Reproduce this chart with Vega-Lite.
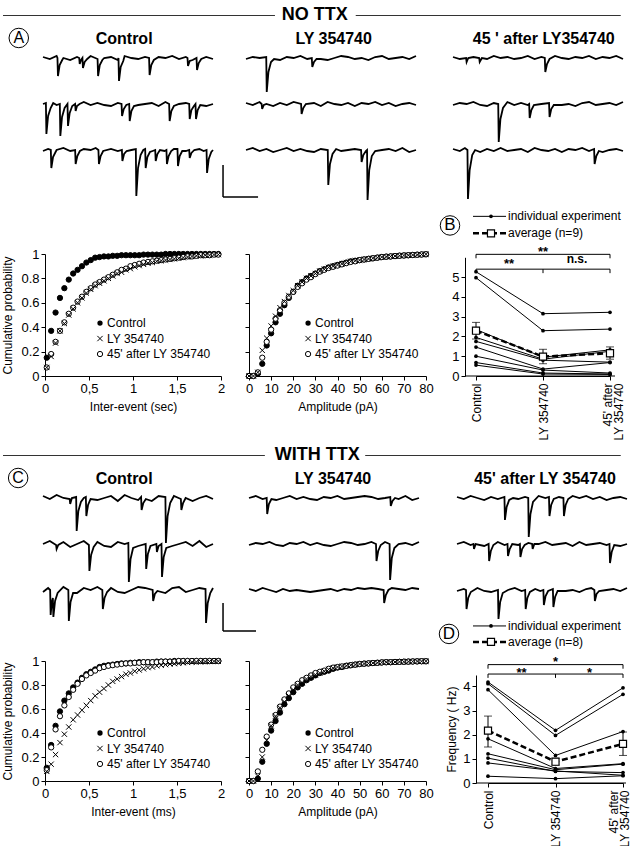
{
"$schema":"https://vega.github.io/schema/vega-lite/v6.json",
"padding":0,
"bounds":"flush",
"spacing":0,
"columns":5,
"align":"each",
"datasets":{
"ACtl":[
{"r":1,"t":0,"v":1},{"r":1,"t":40,"v":-1},{"r":1,"t":80,"v":2},{"r":1,"t":85,"v":0},{"r":1,"t":88,"v":-18},{"r":1,"t":98,"v":-7},{"r":1,"t":113,"v":-2},{"r":1,"t":120,"v":0},{"r":1,"t":160,"v":-2},{"r":1,"t":200,"v":1},{"r":1,"t":213,"v":0},{"r":1,"t":216,"v":-6},{"r":1,"t":224,"v":-2},{"r":1,"t":232,"v":0},{"r":1,"t":235,"v":-10},{"r":1,"t":245,"v":-4},{"r":1,"t":260,"v":-1},{"r":1,"t":280,"v":2},{"r":1,"t":321,"v":-1},{"r":1,"t":324,"v":-18},{"r":1,"t":334,"v":-7},{"r":1,"t":349,"v":-2},{"r":1,"t":360,"v":0},{"r":1,"t":400,"v":1},{"r":1,"t":440,"v":-2},{"r":1,"t":444,"v":0},{"r":1,"t":447,"v":-23},{"r":1,"t":457,"v":-9},{"r":1,"t":472,"v":-3},{"r":1,"t":480,"v":2},{"r":1,"t":520,"v":0},{"r":1,"t":560,"v":-1},{"r":1,"t":600,"v":1},{"r":1,"t":624,"v":0},{"r":1,"t":627,"v":-17},{"r":1,"t":637,"v":-7},{"r":1,"t":652,"v":-2},{"r":1,"t":680,"v":1},{"r":1,"t":720,"v":0},{"r":1,"t":760,"v":2},{"r":1,"t":800,"v":-1},{"r":1,"t":840,"v":1},{"r":1,"t":850,"v":0},{"r":1,"t":853,"v":-8},{"r":1,"t":863,"v":-3},{"r":1,"t":880,"v":-2},{"r":1,"t":903,"v":0},{"r":1,"t":906,"v":-12},{"r":1,"t":916,"v":-5},{"r":1,"t":931,"v":-1},{"r":1,"t":960,"v":1},{"r":1,"t":1000,"v":-1},
{"r":2,"t":0,"v":0},{"r":2,"t":17,"v":1},{"r":2,"t":20,"v":-30},{"r":2,"t":30,"v":-12},{"r":2,"t":45,"v":-4},{"r":2,"t":60,"v":1},{"r":2,"t":80,"v":-1},{"r":2,"t":99,"v":0},{"r":2,"t":102,"v":-32},{"r":2,"t":112,"v":-13},{"r":2,"t":127,"v":-4},{"r":2,"t":144,"v":0},{"r":2,"t":147,"v":-22},{"r":2,"t":157,"v":-9},{"r":2,"t":172,"v":-2},{"r":2,"t":189,"v":0},{"r":2,"t":192,"v":-7},{"r":2,"t":200,"v":-2},{"r":2,"t":215,"v":0},{"r":2,"t":240,"v":2},{"r":2,"t":280,"v":-1},{"r":2,"t":320,"v":1},{"r":2,"t":360,"v":-1},{"r":2,"t":400,"v":-2},{"r":2,"t":440,"v":1},{"r":2,"t":462,"v":0},{"r":2,"t":465,"v":-12},{"r":2,"t":475,"v":-5},{"r":2,"t":490,"v":-1},{"r":2,"t":507,"v":0},{"r":2,"t":510,"v":-17},{"r":2,"t":520,"v":-7},{"r":2,"t":535,"v":-2},{"r":2,"t":560,"v":-1},{"r":2,"t":600,"v":0},{"r":2,"t":640,"v":1},{"r":2,"t":680,"v":-2},{"r":2,"t":720,"v":2},{"r":2,"t":742,"v":0},{"r":2,"t":745,"v":-17},{"r":2,"t":755,"v":-7},{"r":2,"t":770,"v":-2},{"r":2,"t":800,"v":0},{"r":2,"t":840,"v":1},{"r":2,"t":860,"v":0},{"r":2,"t":863,"v":-15},{"r":2,"t":873,"v":-6},{"r":2,"t":888,"v":-2},{"r":2,"t":897,"v":0},{"r":2,"t":900,"v":-15},{"r":2,"t":910,"v":-6},{"r":2,"t":925,"v":-1},{"r":2,"t":960,"v":-2},{"r":2,"t":1000,"v":0},
{"r":3,"t":0,"v":-1},{"r":3,"t":30,"v":1},{"r":3,"t":46,"v":0},{"r":3,"t":49,"v":-18},{"r":3,"t":59,"v":-7},{"r":3,"t":74,"v":-2},{"r":3,"t":80,"v":0},{"r":3,"t":120,"v":2},{"r":3,"t":160,"v":-1},{"r":3,"t":189,"v":0},{"r":3,"t":192,"v":-14},{"r":3,"t":202,"v":-6},{"r":3,"t":217,"v":-1},{"r":3,"t":240,"v":1},{"r":3,"t":280,"v":0},{"r":3,"t":310,"v":2},{"r":3,"t":326,"v":0},{"r":3,"t":329,"v":-14},{"r":3,"t":339,"v":-6},{"r":3,"t":354,"v":-1},{"r":3,"t":400,"v":1},{"r":3,"t":440,"v":-1},{"r":3,"t":464,"v":0},{"r":3,"t":467,"v":-11},{"r":3,"t":477,"v":-4},{"r":3,"t":492,"v":-1},{"r":3,"t":520,"v":0},{"r":3,"t":546,"v":1},{"r":3,"t":549,"v":-46},{"r":3,"t":559,"v":-18},{"r":3,"t":574,"v":-5},{"r":3,"t":590,"v":0},{"r":3,"t":601,"v":1},{"r":3,"t":604,"v":-18},{"r":3,"t":614,"v":-7},{"r":3,"t":629,"v":-2},{"r":3,"t":645,"v":-1},{"r":3,"t":660,"v":0},{"r":3,"t":663,"v":-11},{"r":3,"t":673,"v":-4},{"r":3,"t":688,"v":0},{"r":3,"t":715,"v":-1},{"r":3,"t":726,"v":0},{"r":3,"t":729,"v":-14},{"r":3,"t":739,"v":-6},{"r":3,"t":754,"v":-1},{"r":3,"t":770,"v":1},{"r":3,"t":791,"v":1},{"r":3,"t":794,"v":-16},{"r":3,"t":804,"v":-6},{"r":3,"t":819,"v":-1},{"r":3,"t":840,"v":-1},{"r":3,"t":860,"v":0},{"r":3,"t":863,"v":-8},{"r":3,"t":873,"v":-3},{"r":3,"t":890,"v":0},{"r":3,"t":920,"v":1},{"r":3,"t":945,"v":-1},{"r":3,"t":962,"v":0},{"r":3,"t":965,"v":-23},{"r":3,"t":975,"v":-9},{"r":3,"t":990,"v":-2},{"r":3,"t":1000,"v":0},
{"r":3,"sb":1,"t":1059,"t2":1059,"v":-15,"v2":-47},{"r":3,"sb":1,"t":1059,"t2":1265,"v":-47,"v2":-47}
],
"ALY":[
{"r":1,"t":0,"v":-1},{"r":1,"t":40,"v":1},{"r":1,"t":80,"v":0},{"r":1,"t":119,"v":1},{"r":1,"t":122,"v":-34},{"r":1,"t":132,"v":-14},{"r":1,"t":147,"v":-4},{"r":1,"t":165,"v":-1},{"r":1,"t":200,"v":-2},{"r":1,"t":240,"v":1},{"r":1,"t":280,"v":0},{"r":1,"t":320,"v":2},{"r":1,"t":360,"v":-1},{"r":1,"t":387,"v":0},{"r":1,"t":390,"v":-9},{"r":1,"t":400,"v":-4},{"r":1,"t":415,"v":-1},{"r":1,"t":440,"v":-1},{"r":1,"t":480,"v":-2},{"r":1,"t":520,"v":0},{"r":1,"t":560,"v":2},{"r":1,"t":600,"v":1},{"r":1,"t":640,"v":-1},{"r":1,"t":680,"v":0},{"r":1,"t":720,"v":-2},{"r":1,"t":760,"v":1},{"r":1,"t":800,"v":2},{"r":1,"t":840,"v":-1},{"r":1,"t":880,"v":0},{"r":1,"t":920,"v":1},{"r":1,"t":960,"v":-1},{"r":1,"t":1000,"v":2},
{"r":2,"t":0,"v":1},{"r":2,"t":40,"v":-1},{"r":2,"t":80,"v":2},{"r":2,"t":92,"v":0},{"r":2,"t":95,"v":-5},{"r":2,"t":105,"v":-1},{"r":2,"t":120,"v":0},{"r":2,"t":160,"v":-2},{"r":2,"t":200,"v":1},{"r":2,"t":240,"v":-1},{"r":2,"t":280,"v":2},{"r":2,"t":324,"v":0},{"r":2,"t":327,"v":-10},{"r":2,"t":337,"v":-4},{"r":2,"t":352,"v":0},{"r":2,"t":400,"v":1},{"r":2,"t":440,"v":-2},{"r":2,"t":480,"v":2},{"r":2,"t":520,"v":0},{"r":2,"t":560,"v":-1},{"r":2,"t":600,"v":1},{"r":2,"t":640,"v":-2},{"r":2,"t":680,"v":1},{"r":2,"t":720,"v":0},{"r":2,"t":760,"v":2},{"r":2,"t":800,"v":-1},{"r":2,"t":840,"v":1},{"r":2,"t":880,"v":-2},{"r":2,"t":920,"v":0},{"r":2,"t":960,"v":1},{"r":2,"t":1000,"v":-1},
{"r":3,"t":0,"v":0},{"r":3,"t":40,"v":2},{"r":3,"t":80,"v":-1},{"r":3,"t":120,"v":1},{"r":3,"t":160,"v":-2},{"r":3,"t":200,"v":0},{"r":3,"t":240,"v":2},{"r":3,"t":280,"v":-1},{"r":3,"t":320,"v":1},{"r":3,"t":360,"v":-1},{"r":3,"t":400,"v":-2},{"r":3,"t":440,"v":1},{"r":3,"t":481,"v":0},{"r":3,"t":484,"v":-35},{"r":3,"t":494,"v":-14},{"r":3,"t":509,"v":-4},{"r":3,"t":530,"v":1},{"r":3,"t":560,"v":-1},{"r":3,"t":600,"v":0},{"r":3,"t":640,"v":1},{"r":3,"t":677,"v":0},{"r":3,"t":680,"v":-12},{"r":3,"t":690,"v":-5},{"r":3,"t":705,"v":-1},{"r":3,"t":712,"v":0},{"r":3,"t":715,"v":-50},{"r":3,"t":725,"v":-20},{"r":3,"t":740,"v":-6},{"r":3,"t":760,"v":-1},{"r":3,"t":800,"v":0},{"r":3,"t":840,"v":1},{"r":3,"t":880,"v":-1},{"r":3,"t":920,"v":2},{"r":3,"t":960,"v":-2},{"r":3,"t":1000,"v":0}
],
"A45":[
{"r":1,"t":0,"v":1},{"r":1,"t":40,"v":-1},{"r":1,"t":77,"v":0},{"r":1,"t":80,"v":-4},{"r":1,"t":90,"v":0},{"r":1,"t":120,"v":1},{"r":1,"t":154,"v":0},{"r":1,"t":157,"v":-4},{"r":1,"t":170,"v":0},{"r":1,"t":200,"v":-1},{"r":1,"t":240,"v":2},{"r":1,"t":280,"v":0},{"r":1,"t":320,"v":1},{"r":1,"t":360,"v":-1},{"r":1,"t":400,"v":0},{"r":1,"t":440,"v":2},{"r":1,"t":480,"v":-1},{"r":1,"t":520,"v":1},{"r":1,"t":540,"v":0},{"r":1,"t":543,"v":-14},{"r":1,"t":553,"v":-6},{"r":1,"t":568,"v":-1},{"r":1,"t":600,"v":2},{"r":1,"t":640,"v":0},{"r":1,"t":680,"v":-1},{"r":1,"t":720,"v":1},{"r":1,"t":760,"v":0},{"r":1,"t":800,"v":2},{"r":1,"t":840,"v":-1},{"r":1,"t":880,"v":1},{"r":1,"t":920,"v":0},{"r":1,"t":960,"v":2},{"r":1,"t":1000,"v":-1},
{"r":2,"t":0,"v":-1},{"r":2,"t":40,"v":1},{"r":2,"t":80,"v":0},{"r":2,"t":120,"v":2},{"r":2,"t":160,"v":-1},{"r":2,"t":200,"v":-2},{"r":2,"t":240,"v":1},{"r":2,"t":266,"v":0},{"r":2,"t":269,"v":-38},{"r":2,"t":279,"v":-15},{"r":2,"t":294,"v":-4},{"r":2,"t":320,"v":2},{"r":2,"t":360,"v":-1},{"r":2,"t":400,"v":1},{"r":2,"t":440,"v":-1},{"r":2,"t":448,"v":0},{"r":2,"t":451,"v":-14},{"r":2,"t":461,"v":-6},{"r":2,"t":476,"v":-1},{"r":2,"t":520,"v":0},{"r":2,"t":565,"v":1},{"r":2,"t":568,"v":-13},{"r":2,"t":578,"v":-5},{"r":2,"t":593,"v":-1},{"r":2,"t":640,"v":-1},{"r":2,"t":680,"v":0},{"r":2,"t":720,"v":-2},{"r":2,"t":760,"v":1},{"r":2,"t":800,"v":2},{"r":2,"t":840,"v":-1},{"r":2,"t":880,"v":0},{"r":2,"t":920,"v":1},{"r":2,"t":960,"v":-1},{"r":2,"t":1000,"v":2},
{"r":3,"t":0,"v":1},{"r":3,"t":40,"v":-1},{"r":3,"t":70,"v":2},{"r":3,"t":85,"v":0},{"r":3,"t":88,"v":-49},{"r":3,"t":98,"v":-20},{"r":3,"t":113,"v":-5},{"r":3,"t":130,"v":0},{"r":3,"t":160,"v":-2},{"r":3,"t":200,"v":1},{"r":3,"t":240,"v":-1},{"r":3,"t":280,"v":2},{"r":3,"t":320,"v":-1},{"r":3,"t":360,"v":0},{"r":3,"t":400,"v":1},{"r":3,"t":440,"v":-2},{"r":3,"t":480,"v":2},{"r":3,"t":520,"v":0},{"r":3,"t":560,"v":-1},{"r":3,"t":600,"v":1},{"r":3,"t":640,"v":-2},{"r":3,"t":680,"v":1},{"r":3,"t":720,"v":0},{"r":3,"t":760,"v":2},{"r":3,"t":800,"v":-1},{"r":3,"t":830,"v":1},{"r":3,"t":833,"v":-14},{"r":3,"t":843,"v":-6},{"r":3,"t":858,"v":-1},{"r":3,"t":880,"v":-2},{"r":3,"t":920,"v":0},{"r":3,"t":960,"v":1},{"r":3,"t":1000,"v":-1}
],
"CCtl":[
{"r":1,"t":0,"v":2},{"r":1,"t":40,"v":-1},{"r":1,"t":80,"v":3},{"r":1,"t":120,"v":0},{"r":1,"t":157,"v":-1},{"r":1,"t":160,"v":-6},{"r":1,"t":170,"v":0},{"r":1,"t":195,"v":1},{"r":1,"t":198,"v":-33},{"r":1,"t":208,"v":-13},{"r":1,"t":223,"v":-4},{"r":1,"t":240,"v":0},{"r":1,"t":252,"v":1},{"r":1,"t":255,"v":-18},{"r":1,"t":265,"v":-7},{"r":1,"t":280,"v":-1},{"r":1,"t":320,"v":-2},{"r":1,"t":360,"v":0},{"r":1,"t":400,"v":2},{"r":1,"t":440,"v":-3},{"r":1,"t":480,"v":3},{"r":1,"t":520,"v":0},{"r":1,"t":560,"v":-2},{"r":1,"t":577,"v":1},{"r":1,"t":580,"v":-12},{"r":1,"t":590,"v":-5},{"r":1,"t":605,"v":-1},{"r":1,"t":640,"v":-3},{"r":1,"t":680,"v":2},{"r":1,"t":720,"v":1},{"r":1,"t":723,"v":-45},{"r":1,"t":733,"v":-18},{"r":1,"t":748,"v":-5},{"r":1,"t":770,"v":2},{"r":1,"t":811,"v":-1},{"r":1,"t":814,"v":-12},{"r":1,"t":824,"v":-5},{"r":1,"t":839,"v":0},{"r":1,"t":880,"v":-3},{"r":1,"t":920,"v":0},{"r":1,"t":960,"v":2},{"r":1,"t":1000,"v":-1},
{"r":2,"t":0,"v":0},{"r":2,"t":40,"v":3},{"r":2,"t":77,"v":-1},{"r":2,"t":80,"v":-5},{"r":2,"t":90,"v":-1},{"r":2,"t":120,"v":2},{"r":2,"t":160,"v":-3},{"r":2,"t":200,"v":0},{"r":2,"t":240,"v":3},{"r":2,"t":270,"v":-1},{"r":2,"t":273,"v":-27},{"r":2,"t":283,"v":-11},{"r":2,"t":298,"v":-3},{"r":2,"t":320,"v":2},{"r":2,"t":360,"v":-2},{"r":2,"t":400,"v":-3},{"r":2,"t":440,"v":2},{"r":2,"t":480,"v":0},{"r":2,"t":502,"v":1},{"r":2,"t":505,"v":-38},{"r":2,"t":515,"v":-15},{"r":2,"t":530,"v":-4},{"r":2,"t":560,"v":-2},{"r":2,"t":604,"v":0},{"r":2,"t":607,"v":-25},{"r":2,"t":617,"v":-10},{"r":2,"t":632,"v":-2},{"r":2,"t":667,"v":0},{"r":2,"t":670,"v":-8},{"r":2,"t":680,"v":-2},{"r":2,"t":697,"v":0},{"r":2,"t":700,"v":-33},{"r":2,"t":710,"v":-13},{"r":2,"t":725,"v":-4},{"r":2,"t":760,"v":-2},{"r":2,"t":800,"v":0},{"r":2,"t":840,"v":2},{"r":2,"t":880,"v":-2},{"r":2,"t":920,"v":3},{"r":2,"t":960,"v":-3},{"r":2,"t":1000,"v":0},
{"r":3,"t":0,"v":-2},{"r":3,"t":30,"v":2},{"r":3,"t":42,"v":0},{"r":3,"t":45,"v":-25},{"r":3,"t":52,"v":-12},{"r":3,"t":58,"v":-8},{"r":3,"t":61,"v":-27},{"r":3,"t":71,"v":-11},{"r":3,"t":86,"v":-3},{"r":3,"t":120,"v":3},{"r":3,"t":149,"v":0},{"r":3,"t":152,"v":-31},{"r":3,"t":162,"v":-12},{"r":3,"t":177,"v":-3},{"r":3,"t":200,"v":-3},{"r":3,"t":240,"v":2},{"r":3,"t":280,"v":0},{"r":3,"t":320,"v":3},{"r":3,"t":349,"v":0},{"r":3,"t":352,"v":-19},{"r":3,"t":362,"v":-8},{"r":3,"t":377,"v":-2},{"r":3,"t":400,"v":2},{"r":3,"t":440,"v":-2},{"r":3,"t":480,"v":-3},{"r":3,"t":520,"v":0},{"r":3,"t":560,"v":3},{"r":3,"t":600,"v":2},{"r":3,"t":645,"v":0},{"r":3,"t":648,"v":-11},{"r":3,"t":658,"v":-4},{"r":3,"t":673,"v":-1},{"r":3,"t":720,"v":-3},{"r":3,"t":760,"v":2},{"r":3,"t":800,"v":3},{"r":3,"t":840,"v":-2},{"r":3,"t":880,"v":0},{"r":3,"t":920,"v":2},{"r":3,"t":956,"v":1},{"r":3,"t":959,"v":-33},{"r":3,"t":969,"v":-13},{"r":3,"t":984,"v":-3},{"r":3,"t":1000,"v":2},
{"r":3,"sb":1,"t":1059,"t2":1059,"v":-13,"v2":-41},{"r":3,"sb":1,"t":1059,"t2":1253,"v":-41,"v2":-41}
],
"CLY":[
{"r":1,"t":0,"v":0},{"r":1,"t":40,"v":2},{"r":1,"t":80,"v":-1},{"r":1,"t":104,"v":0},{"r":1,"t":107,"v":-16},{"r":1,"t":117,"v":-6},{"r":1,"t":132,"v":-1},{"r":1,"t":160,"v":-2},{"r":1,"t":200,"v":0},{"r":1,"t":240,"v":2},{"r":1,"t":280,"v":-1},{"r":1,"t":320,"v":1},{"r":1,"t":360,"v":-1},{"r":1,"t":400,"v":-2},{"r":1,"t":440,"v":1},{"r":1,"t":480,"v":0},{"r":1,"t":520,"v":2},{"r":1,"t":560,"v":-1},{"r":1,"t":600,"v":0},{"r":1,"t":640,"v":1},{"r":1,"t":680,"v":2},{"r":1,"t":720,"v":1},{"r":1,"t":760,"v":-1},{"r":1,"t":800,"v":0},{"r":1,"t":831,"v":1},{"r":1,"t":834,"v":-8},{"r":1,"t":844,"v":-3},{"r":1,"t":859,"v":0},{"r":1,"t":880,"v":-1},{"r":1,"t":920,"v":2},{"r":1,"t":960,"v":-2},{"r":1,"t":1000,"v":0},
{"r":2,"t":0,"v":-1},{"r":2,"t":40,"v":1},{"r":2,"t":80,"v":0},{"r":2,"t":120,"v":2},{"r":2,"t":160,"v":-1},{"r":2,"t":200,"v":-2},{"r":2,"t":240,"v":1},{"r":2,"t":280,"v":0},{"r":2,"t":320,"v":2},{"r":2,"t":360,"v":-1},{"r":2,"t":400,"v":1},{"r":2,"t":440,"v":-1},{"r":2,"t":480,"v":-2},{"r":2,"t":520,"v":0},{"r":2,"t":560,"v":2},{"r":2,"t":600,"v":1},{"r":2,"t":640,"v":-1},{"r":2,"t":680,"v":0},{"r":2,"t":720,"v":2},{"r":2,"t":747,"v":0},{"r":2,"t":750,"v":-17},{"r":2,"t":760,"v":-7},{"r":2,"t":775,"v":-1},{"r":2,"t":800,"v":2},{"r":2,"t":827,"v":0},{"r":2,"t":830,"v":-36},{"r":2,"t":840,"v":-14},{"r":2,"t":855,"v":-4},{"r":2,"t":880,"v":0},{"r":2,"t":920,"v":1},{"r":2,"t":960,"v":-1},{"r":2,"t":1000,"v":2},
{"r":3,"t":0,"v":1},{"r":3,"t":40,"v":-1},{"r":3,"t":80,"v":2},{"r":3,"t":120,"v":0},{"r":3,"t":160,"v":-2},{"r":3,"t":200,"v":1},{"r":3,"t":240,"v":-1},{"r":3,"t":280,"v":0},{"r":3,"t":320,"v":-1},{"r":3,"t":360,"v":-2},{"r":3,"t":400,"v":-1},{"r":3,"t":440,"v":0},{"r":3,"t":480,"v":1},{"r":3,"t":520,"v":-1},{"r":3,"t":560,"v":1},{"r":3,"t":600,"v":0},{"r":3,"t":640,"v":2},{"r":3,"t":680,"v":1},{"r":3,"t":720,"v":2},{"r":3,"t":760,"v":1},{"r":3,"t":792,"v":0},{"r":3,"t":795,"v":-13},{"r":3,"t":805,"v":-5},{"r":3,"t":820,"v":0},{"r":3,"t":840,"v":2},{"r":3,"t":880,"v":1},{"r":3,"t":920,"v":0},{"r":3,"t":960,"v":2},{"r":3,"t":1000,"v":1}
],
"C45":[
{"r":1,"t":0,"v":1},{"r":1,"t":40,"v":-1},{"r":1,"t":80,"v":2},{"r":1,"t":120,"v":0},{"r":1,"t":160,"v":-2},{"r":1,"t":200,"v":1},{"r":1,"t":240,"v":-1},{"r":1,"t":279,"v":1},{"r":1,"t":282,"v":-22},{"r":1,"t":292,"v":-9},{"r":1,"t":307,"v":-2},{"r":1,"t":330,"v":0},{"r":1,"t":360,"v":-1},{"r":1,"t":400,"v":1},{"r":1,"t":419,"v":0},{"r":1,"t":422,"v":-39},{"r":1,"t":432,"v":-16},{"r":1,"t":447,"v":-4},{"r":1,"t":480,"v":2},{"r":1,"t":520,"v":0},{"r":1,"t":541,"v":1},{"r":1,"t":544,"v":-18},{"r":1,"t":554,"v":-7},{"r":1,"t":569,"v":-1},{"r":1,"t":600,"v":1},{"r":1,"t":626,"v":0},{"r":1,"t":629,"v":-18},{"r":1,"t":639,"v":-7},{"r":1,"t":654,"v":-1},{"r":1,"t":680,"v":2},{"r":1,"t":720,"v":0},{"r":1,"t":760,"v":2},{"r":1,"t":800,"v":-1},{"r":1,"t":840,"v":1},{"r":1,"t":880,"v":-2},{"r":1,"t":920,"v":0},{"r":1,"t":960,"v":1},{"r":1,"t":1000,"v":-1},
{"r":2,"t":0,"v":0},{"r":2,"t":40,"v":2},{"r":2,"t":80,"v":-1},{"r":2,"t":97,"v":0},{"r":2,"t":100,"v":-5},{"r":2,"t":110,"v":0},{"r":2,"t":160,"v":-2},{"r":2,"t":186,"v":0},{"r":2,"t":189,"v":-17},{"r":2,"t":199,"v":-7},{"r":2,"t":214,"v":-1},{"r":2,"t":240,"v":2},{"r":2,"t":280,"v":-1},{"r":2,"t":297,"v":0},{"r":2,"t":300,"v":-12},{"r":2,"t":310,"v":-5},{"r":2,"t":325,"v":0},{"r":2,"t":360,"v":-1},{"r":2,"t":370,"v":0},{"r":2,"t":373,"v":-13},{"r":2,"t":383,"v":-5},{"r":2,"t":398,"v":-1},{"r":2,"t":420,"v":1},{"r":2,"t":442,"v":0},{"r":2,"t":445,"v":-5},{"r":2,"t":455,"v":0},{"r":2,"t":480,"v":0},{"r":2,"t":520,"v":2},{"r":2,"t":560,"v":-1},{"r":2,"t":600,"v":0},{"r":2,"t":640,"v":1},{"r":2,"t":680,"v":-2},{"r":2,"t":720,"v":2},{"r":2,"t":760,"v":-1},{"r":2,"t":800,"v":0},{"r":2,"t":840,"v":1},{"r":2,"t":880,"v":-1},{"r":2,"t":897,"v":0},{"r":2,"t":900,"v":-19},{"r":2,"t":910,"v":-8},{"r":2,"t":925,"v":-1},{"r":2,"t":960,"v":-2},{"r":2,"t":1000,"v":0},
{"r":3,"t":0,"v":-1},{"r":3,"t":40,"v":1},{"r":3,"t":53,"v":0},{"r":3,"t":56,"v":-19},{"r":3,"t":66,"v":-8},{"r":3,"t":81,"v":-2},{"r":3,"t":120,"v":2},{"r":3,"t":160,"v":-1},{"r":3,"t":200,"v":-2},{"r":3,"t":241,"v":0},{"r":3,"t":244,"v":-29},{"r":3,"t":254,"v":-12},{"r":3,"t":269,"v":-3},{"r":3,"t":300,"v":0},{"r":3,"t":340,"v":2},{"r":3,"t":380,"v":-1},{"r":3,"t":401,"v":0},{"r":3,"t":404,"v":-19},{"r":3,"t":414,"v":-8},{"r":3,"t":429,"v":-2},{"r":3,"t":460,"v":1},{"r":3,"t":490,"v":-1},{"r":3,"t":508,"v":0},{"r":3,"t":511,"v":-15},{"r":3,"t":521,"v":-6},{"r":3,"t":536,"v":-1},{"r":3,"t":564,"v":1},{"r":3,"t":567,"v":-17},{"r":3,"t":577,"v":-7},{"r":3,"t":592,"v":-1},{"r":3,"t":640,"v":-1},{"r":3,"t":680,"v":0},{"r":3,"t":720,"v":-2},{"r":3,"t":760,"v":1},{"r":3,"t":790,"v":2},{"r":3,"t":808,"v":0},{"r":3,"t":811,"v":-11},{"r":3,"t":821,"v":-4},{"r":3,"t":836,"v":-1},{"r":3,"t":880,"v":0},{"r":3,"t":920,"v":1},{"r":3,"t":960,"v":-1},{"r":3,"t":1000,"v":2}
],
"cum1":[
{"x":0.02,"c":0.15,"l":0.07,"p":0.07},{"x":0.07,"c":0.37,"l":0.16,"p":0.18},{"x":0.12,"c":0.52,"l":0.27,"p":0.28},{"x":0.17,"c":0.64,"l":0.37,"p":0.37},{"x":0.22,"c":0.72,"l":0.43,"p":0.44},{"x":0.27,"c":0.79,"l":0.5,"p":0.51},{"x":0.32,"c":0.84,"l":0.55,"p":0.56},{"x":0.37,"c":0.87,"l":0.6,"p":0.61},{"x":0.42,"c":0.9,"l":0.64,"p":0.65},{"x":0.47,"c":0.93,"l":0.68,"p":0.69},{"x":0.52,"c":0.95,"l":0.71,"p":0.72},{"x":0.57,"c":0.97,"l":0.74,"p":0.75},{"x":0.62,"c":0.975,"l":0.76,"p":0.77},{"x":0.67,"c":0.98,"l":0.78,"p":0.79},{"x":0.72,"c":0.98,"l":0.8,"p":0.81},{"x":0.77,"c":0.985,"l":0.82,"p":0.83},{"x":0.82,"c":0.985,"l":0.84,"p":0.85},{"x":0.87,"c":0.99,"l":0.85,"p":0.87},{"x":0.92,"c":0.99,"l":0.87,"p":0.88},{"x":0.97,"c":0.99,"l":0.88,"p":0.9},{"x":1.02,"c":0.99,"l":0.895,"p":0.91},{"x":1.07,"c":0.99,"l":0.905,"p":0.92},{"x":1.12,"c":0.995,"l":0.915,"p":0.93},{"x":1.17,"c":0.995,"l":0.925,"p":0.935},{"x":1.22,"c":0.995,"l":0.93,"p":0.94},{"x":1.27,"c":0.995,"l":0.94,"p":0.945},{"x":1.32,"c":0.995,"l":0.945,"p":0.95},{"x":1.37,"c":1,"l":0.95,"p":0.955},{"x":1.42,"c":1,"l":0.955,"p":0.96},{"x":1.47,"c":1,"l":0.96,"p":0.965},{"x":1.52,"c":1,"l":0.965,"p":0.97},{"x":1.57,"c":1,"l":0.97,"p":0.975},{"x":1.62,"c":1,"l":0.975,"p":0.98},{"x":1.67,"c":1,"l":0.98,"p":0.98},{"x":1.72,"c":1,"l":0.985,"p":0.985},{"x":1.77,"c":1,"l":0.985,"p":0.99},{"x":1.82,"c":1,"l":0.99,"p":0.99},{"x":1.87,"c":1,"l":0.99,"p":0.99},{"x":1.92,"c":1,"l":0.995,"p":0.995},{"x":1.97,"c":1,"l":0.995,"p":0.995}
],
"cum2":[
{"x":0,"c":0,"l":0,"p":0},{"x":2,"c":0,"l":0,"p":0},{"x":4,"c":0.02,"l":0.03,"p":0.03},{"x":6,"c":0.1,"l":0.21,"p":0.15},{"x":8,"c":0.25,"l":0.31,"p":0.28},{"x":10,"c":0.35,"l":0.41,"p":0.38},{"x":12,"c":0.44,"l":0.49,"p":0.47},{"x":14,"c":0.51,"l":0.56,"p":0.54},{"x":16,"c":0.58,"l":0.61,"p":0.6},{"x":18,"c":0.64,"l":0.66,"p":0.65},{"x":20,"c":0.69,"l":0.7,"p":0.69},{"x":22,"c":0.74,"l":0.74,"p":0.73},{"x":24,"c":0.77,"l":0.77,"p":0.76},{"x":26,"c":0.8,"l":0.8,"p":0.79},{"x":28,"c":0.82,"l":0.82,"p":0.81},{"x":30,"c":0.84,"l":0.84,"p":0.835},{"x":32,"c":0.86,"l":0.86,"p":0.855},{"x":34,"c":0.875,"l":0.875,"p":0.87},{"x":36,"c":0.89,"l":0.89,"p":0.885},{"x":38,"c":0.9,"l":0.9,"p":0.895},{"x":40,"c":0.91,"l":0.91,"p":0.905},{"x":42,"c":0.92,"l":0.92,"p":0.915},{"x":44,"c":0.93,"l":0.93,"p":0.925},{"x":46,"c":0.94,"l":0.94,"p":0.935},{"x":48,"c":0.945,"l":0.945,"p":0.94},{"x":50,"c":0.95,"l":0.95,"p":0.95},{"x":52,"c":0.955,"l":0.955,"p":0.955},{"x":54,"c":0.96,"l":0.96,"p":0.96},{"x":56,"c":0.965,"l":0.965,"p":0.965},{"x":58,"c":0.97,"l":0.97,"p":0.97},{"x":60,"c":0.975,"l":0.975,"p":0.975},{"x":62,"c":0.978,"l":0.978,"p":0.978},{"x":64,"c":0.98,"l":0.98,"p":0.98},{"x":66,"c":0.983,"l":0.983,"p":0.983},{"x":68,"c":0.986,"l":0.986,"p":0.986},{"x":70,"c":0.988,"l":0.988,"p":0.988},{"x":72,"c":0.99,"l":0.99,"p":0.99},{"x":74,"c":0.992,"l":0.992,"p":0.992},{"x":76,"c":0.994,"l":0.994,"p":0.994},{"x":78,"c":0.996,"l":0.996,"p":0.996},{"x":80,"c":0.998,"l":0.998,"p":0.998}
],
"cum3":[
{"x":0.02,"c":0.11,"l":0.08,"p":0.09},{"x":0.07,"c":0.3,"l":0.14,"p":0.28},{"x":0.12,"c":0.46,"l":0.22,"p":0.43},{"x":0.17,"c":0.58,"l":0.32,"p":0.54},{"x":0.22,"c":0.67,"l":0.39,"p":0.63},{"x":0.27,"c":0.73,"l":0.45,"p":0.7},{"x":0.32,"c":0.78,"l":0.51,"p":0.76},{"x":0.37,"c":0.82,"l":0.55,"p":0.81},{"x":0.42,"c":0.86,"l":0.59,"p":0.85},{"x":0.47,"c":0.89,"l":0.63,"p":0.88},{"x":0.52,"c":0.91,"l":0.67,"p":0.9},{"x":0.57,"c":0.93,"l":0.71,"p":0.92},{"x":0.62,"c":0.95,"l":0.74,"p":0.94},{"x":0.67,"c":0.96,"l":0.77,"p":0.95},{"x":0.72,"c":0.965,"l":0.8,"p":0.96},{"x":0.77,"c":0.97,"l":0.83,"p":0.965},{"x":0.82,"c":0.975,"l":0.85,"p":0.97},{"x":0.87,"c":0.98,"l":0.87,"p":0.975},{"x":0.92,"c":0.98,"l":0.89,"p":0.98},{"x":0.97,"c":0.985,"l":0.9,"p":0.98},{"x":1.02,"c":0.985,"l":0.915,"p":0.985},{"x":1.07,"c":0.99,"l":0.925,"p":0.985},{"x":1.12,"c":0.99,"l":0.935,"p":0.99},{"x":1.17,"c":0.99,"l":0.945,"p":0.99},{"x":1.22,"c":0.99,"l":0.95,"p":0.99},{"x":1.27,"c":0.995,"l":0.96,"p":0.99},{"x":1.32,"c":0.995,"l":0.965,"p":0.995},{"x":1.37,"c":0.995,"l":0.97,"p":0.995},{"x":1.42,"c":0.995,"l":0.975,"p":0.995},{"x":1.47,"c":1,"l":0.978,"p":0.995},{"x":1.52,"c":1,"l":0.98,"p":1},{"x":1.57,"c":1,"l":0.985,"p":1},{"x":1.62,"c":1,"l":0.988,"p":1},{"x":1.67,"c":1,"l":0.99,"p":1},{"x":1.72,"c":1,"l":0.992,"p":1},{"x":1.77,"c":1,"l":0.994,"p":1},{"x":1.82,"c":1,"l":0.995,"p":1},{"x":1.87,"c":1,"l":0.996,"p":1},{"x":1.92,"c":1,"l":0.997,"p":1},{"x":1.97,"c":1,"l":0.998,"p":1}
],
"cum4":[
{"x":0,"c":0,"l":0,"p":0},{"x":2,"c":0,"l":0,"p":0},{"x":4,"c":0.02,"l":0.04,"p":0.08},{"x":6,"c":0.16,"l":0.2,"p":0.26},{"x":8,"c":0.31,"l":0.34,"p":0.37},{"x":10,"c":0.42,"l":0.46,"p":0.47},{"x":12,"c":0.5,"l":0.54,"p":0.55},{"x":14,"c":0.57,"l":0.61,"p":0.62},{"x":16,"c":0.64,"l":0.66,"p":0.68},{"x":18,"c":0.69,"l":0.71,"p":0.73},{"x":20,"c":0.74,"l":0.76,"p":0.78},{"x":22,"c":0.78,"l":0.8,"p":0.81},{"x":24,"c":0.81,"l":0.82,"p":0.84},{"x":26,"c":0.84,"l":0.85,"p":0.86},{"x":28,"c":0.86,"l":0.87,"p":0.88},{"x":30,"c":0.88,"l":0.885,"p":0.9},{"x":32,"c":0.9,"l":0.9,"p":0.91},{"x":34,"c":0.91,"l":0.915,"p":0.92},{"x":36,"c":0.92,"l":0.93,"p":0.935},{"x":38,"c":0.935,"l":0.94,"p":0.945},{"x":40,"c":0.945,"l":0.95,"p":0.95},{"x":42,"c":0.95,"l":0.955,"p":0.955},{"x":44,"c":0.96,"l":0.96,"p":0.96},{"x":46,"c":0.965,"l":0.965,"p":0.965},{"x":48,"c":0.97,"l":0.97,"p":0.97},{"x":50,"c":0.975,"l":0.975,"p":0.975},{"x":52,"c":0.978,"l":0.978,"p":0.978},{"x":54,"c":0.98,"l":0.98,"p":0.98},{"x":56,"c":0.983,"l":0.983,"p":0.983},{"x":58,"c":0.985,"l":0.985,"p":0.985},{"x":60,"c":0.988,"l":0.988,"p":0.988},{"x":62,"c":0.99,"l":0.99,"p":0.99},{"x":64,"c":0.99,"l":0.99,"p":0.99},{"x":66,"c":0.992,"l":0.992,"p":0.992},{"x":68,"c":0.993,"l":0.993,"p":0.993},{"x":70,"c":0.994,"l":0.994,"p":0.994},{"x":72,"c":0.995,"l":0.995,"p":0.995},{"x":74,"c":0.996,"l":0.996,"p":0.996},{"x":76,"c":0.997,"l":0.997,"p":0.997},{"x":78,"c":0.998,"l":0.998,"p":0.998},{"x":80,"c":0.998,"l":0.998,"p":0.998}
],
"B":[
{"e":1,"c":"C","y":5.27},{"e":1,"c":"L","y":3.15},{"e":1,"c":"P","y":3.22},
{"e":2,"c":"C","y":4.97},{"e":2,"c":"L","y":2.29},{"e":2,"c":"P","y":2.37},
{"e":3,"c":"C","y":2.35},{"e":3,"c":"L","y":0.95},{"e":3,"c":"P","y":1.32},
{"e":4,"c":"C","y":1.95},{"e":4,"c":"L","y":0.85},{"e":4,"c":"P","y":1.25},
{"e":5,"c":"C","y":1.75},{"e":5,"c":"L","y":0.8},{"e":5,"c":"P","y":0.7},
{"e":6,"c":"C","y":1.46},{"e":6,"c":"L","y":0.35},{"e":6,"c":"P","y":0.68},
{"e":7,"c":"C","y":1.0},{"e":7,"c":"L","y":0.3},{"e":7,"c":"P","y":0.15},
{"e":8,"c":"C","y":0.68},{"e":8,"c":"L","y":0.15},{"e":8,"c":"P","y":0.1},
{"e":9,"c":"C","y":0.55},{"e":9,"c":"L","y":0.1},{"e":9,"c":"P","y":0.08}
],
"Bavg":[
{"c":"C","m":2.29,"lo":1.87,"hi":2.71},{"c":"L","m":0.98,"lo":0.62,"hi":1.35},{"c":"P","m":1.15,"lo":0.85,"hi":1.47}
],
"D":[
{"e":1,"c":"C","y":4.18},{"e":1,"c":"L","y":2.18},{"e":1,"c":"P","y":3.94},
{"e":2,"c":"C","y":4.11},{"e":2,"c":"L","y":1.97},{"e":2,"c":"P","y":3.67},
{"e":3,"c":"C","y":3.86},{"e":3,"c":"L","y":1.14},{"e":3,"c":"P","y":2.13},
{"e":4,"c":"C","y":1.83},{"e":4,"c":"L","y":0.6},{"e":4,"c":"P","y":0.8},
{"e":5,"c":"C","y":1.21},{"e":5,"c":"L","y":0.55},{"e":5,"c":"P","y":0.78},
{"e":6,"c":"C","y":1.03},{"e":6,"c":"L","y":0.48},{"e":6,"c":"P","y":0.43},
{"e":7,"c":"C","y":0.83},{"e":7,"c":"L","y":0.5},{"e":7,"c":"P","y":0.32},
{"e":8,"c":"C","y":0.28},{"e":8,"c":"L","y":0.18},{"e":8,"c":"P","y":0.3}
],
"Davg":[
{"c":"C","m":2.17,"lo":1.49,"hi":2.77},{"c":"L","m":0.88,"lo":0.74,"hi":1.02},{"c":"P","m":1.62,"lo":1.14,"hi":2.11}
]
},
"concat":[
{"width":1,"height":49,"data":{"values":[{}]},
 "layer":[
  {"mark":{"type":"rule","color":"#333","strokeWidth":1.2},"encoding":{"x":{"datum":0,"type":"quantitative","scale":{"domain":[0,1],"range":[0,631]},"axis":null},"x2":{"datum":0.431},"y":{"datum":0.255,"type":"quantitative","scale":{"domain":[0,1],"reverse":true},"axis":null}}},
  {"mark":{"type":"rule","color":"#333","strokeWidth":1.2},"encoding":{"x":{"datum":0.559,"type":"quantitative"},"x2":{"datum":0.979},"y":{"datum":0.255,"type":"quantitative"}}},
  {"mark":{"type":"text","fontSize":18,"fontWeight":"bold"},"encoding":{"x":{"datum":0.494,"type":"quantitative"},"y":{"datum":0.255,"type":"quantitative"},"text":{"value":"NO TTX"}}},
  {"mark":{"type":"point","shape":"circle","size":380,"filled":false,"stroke":"black","strokeWidth":1,"opacity":1},"encoding":{"x":{"datum":0.025,"type":"quantitative"},"y":{"datum":0.714,"type":"quantitative"}}},
  {"mark":{"type":"text","fontSize":16},"encoding":{"x":{"datum":0.025,"type":"quantitative"},"y":{"datum":0.714,"type":"quantitative"},"text":{"value":"A"}}},
  {"mark":{"type":"text","fontSize":16,"fontWeight":"bold"},"encoding":{"x":{"datum":0.192,"type":"quantitative"},"y":{"datum":0.735,"type":"quantitative"},"text":{"value":"Control"}}},
  {"mark":{"type":"text","fontSize":16,"fontWeight":"bold"},"encoding":{"x":{"datum":0.524,"type":"quantitative"},"y":{"datum":0.735,"type":"quantitative"},"text":{"value":"LY 354740"}}},
  {"mark":{"type":"text","fontSize":16,"fontWeight":"bold"},"encoding":{"x":{"datum":0.857,"type":"quantitative"},"y":{"datum":0.735,"type":"quantitative"},"text":{"value":"45 ' after LY354740"}}}
 ]},
{"width":1,"height":1,"data":{"values":[{}]},"mark":{"type":"point","opacity":0}},
{"width":1,"height":1,"data":{"values":[{}]},"mark":{"type":"point","opacity":0}},
{"width":1,"height":1,"data":{"values":[{}]},"mark":{"type":"point","opacity":0}},
{"width":1,"height":1,"data":{"values":[{}]},"mark":{"type":"point","opacity":0}},

{"width":1,"height":1,"data":{"values":[{}]},"mark":{"type":"point","opacity":0}},
{"width":170,"height":46,"data":{"name":"ACtl"},"transform":[{"filter":"datum.r == 1"}],"mark":{"type":"line","color":"black","strokeWidth":1.8},"encoding":{"x":{"field":"t","type":"quantitative","scale":{"domain":[0,1000],"range":[-2,168],"nice":false,"zero":false},"axis":null},"y":{"field":"v","type":"quantitative","scale":{"domain":[-40,6],"nice":false,"zero":false},"axis":null}}},
{"width":170,"height":46,"data":{"name":"ALY"},"transform":[{"filter":"datum.r == 1"}],"mark":{"type":"line","color":"black","strokeWidth":1.8},"encoding":{"x":{"field":"t","type":"quantitative","scale":{"domain":[0,1000],"range":[-3,167],"nice":false,"zero":false},"axis":null},"y":{"field":"v","type":"quantitative","scale":{"domain":[-40,6],"nice":false,"zero":false},"axis":null}}},
{"width":1,"height":46,"data":{"name":"A45"},"transform":[{"filter":"datum.r == 1"}],"mark":{"type":"line","color":"black","strokeWidth":1.8},"encoding":{"x":{"field":"t","type":"quantitative","scale":{"domain":[0,1000],"range":[-12,158],"nice":false,"zero":false},"axis":null},"y":{"field":"v","type":"quantitative","scale":{"domain":[-40,6],"nice":false,"zero":false},"axis":null}}},
{"width":1,"height":1,"data":{"values":[{}]},"mark":{"type":"point","opacity":0}},

{"width":1,"height":1,"data":{"values":[{}]},"mark":{"type":"point","opacity":0}},
{"width":170,"height":46,"data":{"name":"ACtl"},"transform":[{"filter":"datum.r == 2"}],"mark":{"type":"line","color":"black","strokeWidth":1.8},"encoding":{"x":{"field":"t","type":"quantitative","scale":{"domain":[0,1000],"range":[-2,168],"nice":false,"zero":false},"axis":null},"y":{"field":"v","type":"quantitative","scale":{"domain":[-40,6],"nice":false,"zero":false},"axis":null}}},
{"width":170,"height":46,"data":{"name":"ALY"},"transform":[{"filter":"datum.r == 2"}],"mark":{"type":"line","color":"black","strokeWidth":1.8},"encoding":{"x":{"field":"t","type":"quantitative","scale":{"domain":[0,1000],"range":[-3,167],"nice":false,"zero":false},"axis":null},"y":{"field":"v","type":"quantitative","scale":{"domain":[-40,6],"nice":false,"zero":false},"axis":null}}},
{"width":1,"height":46,"data":{"name":"A45"},"transform":[{"filter":"datum.r == 2"}],"mark":{"type":"line","color":"black","strokeWidth":1.8},"encoding":{"x":{"field":"t","type":"quantitative","scale":{"domain":[0,1000],"range":[-12,158],"nice":false,"zero":false},"axis":null},"y":{"field":"v","type":"quantitative","scale":{"domain":[-40,6],"nice":false,"zero":false},"axis":null}}},
{"width":1,"height":1,"data":{"values":[{}]},"mark":{"type":"point","opacity":0}},

{"width":1,"height":1,"data":{"values":[{}]},"mark":{"type":"point","opacity":0}},
{"width":170,"height":46,"data":{"name":"ACtl"},"layer":[
  {"transform":[{"filter":"datum.r == 3 && !datum.sb"}],"mark":{"type":"line","color":"black","strokeWidth":1.8},"encoding":{"x":{"field":"t","type":"quantitative","scale":{"domain":[0,1000],"range":[-2,168],"nice":false,"zero":false},"axis":null},"y":{"field":"v","type":"quantitative","scale":{"domain":[-40,6],"nice":false,"zero":false},"axis":null}}},
  {"transform":[{"filter":"datum.sb == 1"}],"mark":{"type":"rule","color":"black","strokeWidth":1.5},"encoding":{"x":{"field":"t","type":"quantitative"},"x2":{"field":"t2"},"y":{"field":"v","type":"quantitative"},"y2":{"field":"v2"}}}
]},
{"width":170,"height":46,"data":{"name":"ALY"},"transform":[{"filter":"datum.r == 3"}],"mark":{"type":"line","color":"black","strokeWidth":1.8},"encoding":{"x":{"field":"t","type":"quantitative","scale":{"domain":[0,1000],"range":[-3,167],"nice":false,"zero":false},"axis":null},"y":{"field":"v","type":"quantitative","scale":{"domain":[-40,6],"nice":false,"zero":false},"axis":null}}},
{"width":1,"height":46,"data":{"name":"A45"},"transform":[{"filter":"datum.r == 3"}],"mark":{"type":"line","color":"black","strokeWidth":1.8},"encoding":{"x":{"field":"t","type":"quantitative","scale":{"domain":[0,1000],"range":[-12,158],"nice":false,"zero":false},"axis":null},"y":{"field":"v","type":"quantitative","scale":{"domain":[-40,6],"nice":false,"zero":false},"axis":null}}},
{"width":1,"height":1,"data":{"values":[{}]},"mark":{"type":"point","opacity":0}},

{"width":42,"height":64,"data":{"values":[{}]},"mark":{"type":"point","opacity":0}},
{"width":204,"height":1,"data":{"values":[{}]},"mark":{"type":"point","opacity":0}},
{"width":216,"height":1,"data":{"values":[{}]},"mark":{"type":"point","opacity":0}},
{"width":11,"height":1,"data":{"values":[{}]},"mark":{"type":"point","opacity":0}},
{"width":1,"height":1,"data":{"values":[{}]},"mark":{"type":"point","opacity":0}},

{"width":1,"height":1,"data":{"values":[{}]},"mark":{"type":"point","opacity":0}},
{"width":176,"height":122,"layer":[
 {"data":{"name":"cum1"},"transform":[{"fold":["c","p","l"],"as":["k","y"]}],
  "mark":{"type":"point","stroke":"black","strokeWidth":1,"size":28,"opacity":1},
  "encoding":{
   "x":{"field":"x","type":"quantitative","scale":{"domain":[0,2],"nice":false},"axis":{"values":[0,0.5,1,1.5,2],"tickCount":20,"labelExpr":"replace(format(datum.value,'~g'),'.',',')","title":"Inter-event (sec)"}},
   "y":{"field":"y","type":"quantitative","scale":{"domain":[0,1],"nice":false},"axis":{"values":[0,0.2,0.4,0.6,0.8,1],"tickCount":20,"format":"~g","title":"Cumulative probability"}},
   "shape":{"field":"k","type":"nominal","scale":{"domain":["c","l","p"],"range":["circle","M-1,-1L1,1M-1,1L1,-1","circle"]},"legend":null},
   "fill":{"field":"k","type":"nominal","scale":{"domain":["c","l","p"],"range":["black","transparent","white"]},"legend":null}}},
 {"data":{"values":[{}]},"mark":{"type":"point","shape":"circle","filled":true,"color":"black","size":28,"opacity":1},"encoding":{"x":{"datum":0.625},"y":{"datum":0.434}}},
 {"data":{"values":[{}]},"mark":{"type":"point","shape":"M-1,-1L1,1M-1,1L1,-1","stroke":"black","strokeWidth":1,"size":28,"opacity":1},"encoding":{"x":{"datum":0.625},"y":{"datum":0.307}}},
 {"data":{"values":[{}]},"mark":{"type":"point","shape":"circle","fill":"white","stroke":"black","strokeWidth":1,"size":28,"opacity":1},"encoding":{"x":{"datum":0.625},"y":{"datum":0.18}}},
 {"data":{"values":[{}]},"mark":{"type":"text","align":"left","dx":7,"fontSize":12,"lineHeight":15.5},"encoding":{"x":{"datum":0.625},"y":{"datum":0.434},"text":{"value":["Control","LY 354740","45' after LY 354740"]}}}
]},
{"width":177,"height":122,"layer":[
 {"data":{"name":"cum2"},"transform":[{"fold":["c","p","l"],"as":["k","y"]}],
  "mark":{"type":"point","stroke":"black","strokeWidth":1,"size":28,"opacity":1},
  "encoding":{
   "x":{"field":"x","type":"quantitative","scale":{"domain":[0,80],"nice":false},"axis":{"values":[0,10,20,30,40,50,60,70,80],"tickCount":20,"title":"Amplitude (pA)"}},
   "y":{"field":"y","type":"quantitative","scale":{"domain":[0,1],"nice":false},"axis":{"values":[0,0.2,0.4,0.6,0.8,1],"tickCount":20,"labels":false,"title":null}},
   "shape":{"field":"k","type":"nominal","scale":{"domain":["c","l","p"],"range":["circle","M-1,-1L1,1M-1,1L1,-1","circle"]},"legend":null},
   "fill":{"field":"k","type":"nominal","scale":{"domain":["c","l","p"],"range":["black","transparent","white"]},"legend":null}}},
 {"data":{"values":[{}]},"mark":{"type":"point","shape":"circle","filled":true,"color":"black","size":28,"opacity":1},"encoding":{"x":{"datum":26.7},"y":{"datum":0.434}}},
 {"data":{"values":[{}]},"mark":{"type":"point","shape":"M-1,-1L1,1M-1,1L1,-1","stroke":"black","strokeWidth":1,"size":28,"opacity":1},"encoding":{"x":{"datum":26.7},"y":{"datum":0.307}}},
 {"data":{"values":[{}]},"mark":{"type":"point","shape":"circle","fill":"white","stroke":"black","strokeWidth":1,"size":28,"opacity":1},"encoding":{"x":{"datum":26.7},"y":{"datum":0.18}}},
 {"data":{"values":[{}]},"mark":{"type":"text","align":"left","dx":7,"fontSize":12,"lineHeight":15.5},"encoding":{"x":{"datum":26.7},"y":{"datum":0.434},"text":{"value":["Control","LY 354740","45' after LY 354740"]}}}
]},
{"width":1,"height":122,
 "layer":[
  {"data":{"values":[{"x":"C","x2":"P","y":6.15,"y2":6.15},{"x":"C","x2":"C","y":6.15,"y2":5.95},{"x":"P","x2":"P","y":6.15,"y2":5.95},{"x":"C","x2":"P","y":5.4,"y2":5.4},{"x":"C","x2":"C","y":5.4,"y2":5.2},{"x":"L","x2":"L","y":5.4,"y2":5.2},{"x":"P","x2":"P","y":5.4,"y2":5.2}]},
   "mark":{"type":"rule","color":"black","strokeWidth":1},
   "encoding":{
    "x":{"field":"x","type":"nominal","scale":{"type":"point","domain":["C","L","P"],"range":[11,145],"padding":0},"axis":{"title":null,"labelAngle":-90,"labelPadding":3,"labelFontSize":12,"labelLineHeight":11,"labelOffset":{"condition":{"test":"datum.value == 'P'","value":-3},"value":0},"labelExpr":"datum.value == 'C' ? 'Control' : datum.value == 'L' ? 'LY 354740' : [\"45' after\", 'LY 354740']"}},
    "x2":{"field":"x2"},
    "y":{"field":"y","type":"quantitative","scale":{"domain":[0,6],"range":[122,3.3],"nice":false},"axis":{"title":null,"values":[0,1,2,3,4,5],"tickCount":20,"format":"d"}},
    "y2":{"field":"y2"}}},
  {"data":{"values":[{}]},"mark":{"type":"rule","color":"black","strokeWidth":1,"xOffset":-11,"x2Offset":5},"encoding":{"x":{"datum":"C"},"x2":{"datum":"P"},"y":{"datum":0}}},
  {"data":{"values":[{}]},"mark":{"type":"text","fontSize":13,"fontWeight":"bold"},"encoding":{"x":{"datum":"L"},"y":{"datum":6.28},"text":{"value":"**"}}},
  {"data":{"values":[{}]},"mark":{"type":"text","fontSize":13,"fontWeight":"bold","dx":-34},"encoding":{"x":{"datum":"L"},"y":{"datum":5.67},"text":{"value":"**"}}},
  {"data":{"values":[{}]},"mark":{"type":"text","fontSize":12,"fontWeight":"bold","dx":34},"encoding":{"x":{"datum":"L"},"y":{"datum":5.9},"text":{"value":"n.s."}}},
  {"data":{"name":"B"},"mark":{"type":"line","color":"black","strokeWidth":1},"encoding":{"x":{"field":"c","type":"nominal"},"y":{"field":"y","type":"quantitative"},"detail":{"field":"e"}}},
  {"data":{"name":"B"},"mark":{"type":"point","filled":true,"color":"black","size":14,"opacity":1},"encoding":{"x":{"field":"c","type":"nominal"},"y":{"field":"y","type":"quantitative"}}},
  {"data":{"name":"Bavg"},"mark":{"type":"rule","color":"black","strokeWidth":1},"encoding":{"x":{"field":"c","type":"nominal"},"y":{"field":"lo","type":"quantitative"},"y2":{"field":"hi"}}},
  {"data":{"name":"Bavg"},"mark":{"type":"tick","color":"black","size":8,"thickness":1},"encoding":{"x":{"field":"c","type":"nominal"},"y":{"field":"hi","type":"quantitative"}}},
  {"data":{"name":"Bavg"},"mark":{"type":"tick","color":"black","size":8,"thickness":1},"encoding":{"x":{"field":"c","type":"nominal"},"y":{"field":"lo","type":"quantitative"}}},
  {"data":{"name":"Bavg"},"mark":{"type":"line","color":"black","strokeWidth":2.5,"strokeDash":[6,3]},"encoding":{"x":{"field":"c","type":"nominal"},"y":{"field":"m","type":"quantitative"}}},
  {"data":{"name":"Bavg"},"mark":{"type":"point","shape":"square","filled":true,"fill":"white","stroke":"black","strokeWidth":1.2,"size":50,"opacity":1},"encoding":{"x":{"field":"c","type":"nominal"},"y":{"field":"m","type":"quantitative"}}},
  {"data":{"values":[{}]},"mark":{"type":"rule","color":"black","strokeWidth":1,"xOffset":-3,"x2Offset":30},"encoding":{"x":{"datum":"C"},"x2":{"datum":"C"},"y":{"datum":8.07}}},
  {"data":{"values":[{}]},"mark":{"type":"point","shape":"circle","filled":true,"color":"black","size":14,"opacity":1,"xOffset":15},"encoding":{"x":{"datum":"C"},"y":{"datum":8.07}}},
  {"data":{"values":[{}]},"mark":{"type":"text","align":"left","fontSize":12,"dx":32},"encoding":{"x":{"datum":"C"},"y":{"datum":8.07},"text":{"value":"individual experiment"}}},
  {"data":{"values":[{}]},"mark":{"type":"rule","color":"black","strokeWidth":2.5,"strokeDash":[6,3],"xOffset":-3,"x2Offset":30},"encoding":{"x":{"datum":"C"},"x2":{"datum":"C"},"y":{"datum":7.21}}},
  {"data":{"values":[{}]},"mark":{"type":"point","shape":"square","filled":true,"fill":"white","stroke":"black","strokeWidth":1.2,"size":50,"opacity":1,"xOffset":15},"encoding":{"x":{"datum":"C"},"y":{"datum":7.21}}},
  {"data":{"values":[{}]},"mark":{"type":"text","align":"left","fontSize":12,"dx":32},"encoding":{"x":{"datum":"C"},"y":{"datum":7.21},"text":{"value":"average (n=9)"}}},
  {"data":{"values":[{}]},"mark":{"type":"point","shape":"circle","size":380,"filled":false,"stroke":"black","strokeWidth":1,"opacity":1,"xOffset":-26},"encoding":{"x":{"datum":"C"},"y":{"datum":7.61}}},
  {"data":{"values":[{}]},"mark":{"type":"text","fontSize":17,"dx":-26},"encoding":{"x":{"datum":"C"},"y":{"datum":7.61},"text":{"value":"B"}}}
 ]},
{"width":1,"height":1,"data":{"values":[{}]},"mark":{"type":"point","opacity":0}},

{"width":1,"height":67,"data":{"values":[{}]},"mark":{"type":"point","opacity":0}},
{"width":1,"height":1,"data":{"values":[{}]},"mark":{"type":"point","opacity":0}},
{"width":1,"height":1,"data":{"values":[{}]},"mark":{"type":"point","opacity":0}},
{"width":1,"height":1,"data":{"values":[{}]},"mark":{"type":"point","opacity":0}},
{"width":1,"height":1,"data":{"values":[{}]},"mark":{"type":"point","opacity":0}},

{"width":1,"height":49,"data":{"values":[{}]},
 "layer":[
  {"mark":{"type":"rule","color":"#333","strokeWidth":1.2},"encoding":{"x":{"datum":0,"type":"quantitative","scale":{"domain":[0,1],"range":[0,631]},"axis":null},"x2":{"datum":0.415},"y":{"datum":0.255,"type":"quantitative","scale":{"domain":[0,1],"reverse":true},"axis":null}}},
  {"mark":{"type":"rule","color":"#333","strokeWidth":1.2},"encoding":{"x":{"datum":0.574,"type":"quantitative"},"x2":{"datum":0.979},"y":{"datum":0.255,"type":"quantitative"}}},
  {"mark":{"type":"text","fontSize":18,"fontWeight":"bold"},"encoding":{"x":{"datum":0.498,"type":"quantitative"},"y":{"datum":0.255,"type":"quantitative"},"text":{"value":"WITH TTX"}}},
  {"mark":{"type":"point","shape":"circle","size":380,"filled":false,"stroke":"black","strokeWidth":1,"opacity":1},"encoding":{"x":{"datum":0.024,"type":"quantitative"},"y":{"datum":0.714,"type":"quantitative"}}},
  {"mark":{"type":"text","fontSize":16},"encoding":{"x":{"datum":0.024,"type":"quantitative"},"y":{"datum":0.714,"type":"quantitative"},"text":{"value":"C"}}},
  {"mark":{"type":"text","fontSize":16,"fontWeight":"bold"},"encoding":{"x":{"datum":0.192,"type":"quantitative"},"y":{"datum":0.735,"type":"quantitative"},"text":{"value":"Control"}}},
  {"mark":{"type":"text","fontSize":16,"fontWeight":"bold"},"encoding":{"x":{"datum":0.523,"type":"quantitative"},"y":{"datum":0.735,"type":"quantitative"},"text":{"value":"LY 354740"}}},
  {"mark":{"type":"text","fontSize":16,"fontWeight":"bold"},"encoding":{"x":{"datum":0.859,"type":"quantitative"},"y":{"datum":0.735,"type":"quantitative"},"text":{"value":"45' after LY 354740"}}}
 ]},
{"width":1,"height":1,"data":{"values":[{}]},"mark":{"type":"point","opacity":0}},
{"width":1,"height":1,"data":{"values":[{}]},"mark":{"type":"point","opacity":0}},
{"width":1,"height":1,"data":{"values":[{}]},"mark":{"type":"point","opacity":0}},
{"width":1,"height":1,"data":{"values":[{}]},"mark":{"type":"point","opacity":0}},

{"width":1,"height":1,"data":{"values":[{}]},"mark":{"type":"point","opacity":0}},
{"width":170,"height":46,"data":{"name":"CCtl"},"transform":[{"filter":"datum.r == 1"}],"mark":{"type":"line","color":"black","strokeWidth":1.8},"encoding":{"x":{"field":"t","type":"quantitative","scale":{"domain":[0,1000],"range":[-2,168],"nice":false,"zero":false},"axis":null},"y":{"field":"v","type":"quantitative","scale":{"domain":[-40,6],"nice":false,"zero":false},"axis":null}}},
{"width":170,"height":46,"data":{"name":"CLY"},"transform":[{"filter":"datum.r == 1"}],"mark":{"type":"line","color":"black","strokeWidth":1.8},"encoding":{"x":{"field":"t","type":"quantitative","scale":{"domain":[0,1000],"range":[0,170],"nice":false,"zero":false},"axis":null},"y":{"field":"v","type":"quantitative","scale":{"domain":[-40,6],"nice":false,"zero":false},"axis":null}}},
{"width":1,"height":46,"data":{"name":"C45"},"transform":[{"filter":"datum.r == 1"}],"mark":{"type":"line","color":"black","strokeWidth":1.8},"encoding":{"x":{"field":"t","type":"quantitative","scale":{"domain":[0,1000],"range":[-8,162],"nice":false,"zero":false},"axis":null},"y":{"field":"v","type":"quantitative","scale":{"domain":[-40,6],"nice":false,"zero":false},"axis":null}}},
{"width":1,"height":1,"data":{"values":[{}]},"mark":{"type":"point","opacity":0}},

{"width":1,"height":1,"data":{"values":[{}]},"mark":{"type":"point","opacity":0}},
{"width":170,"height":46,"data":{"name":"CCtl"},"transform":[{"filter":"datum.r == 2"}],"mark":{"type":"line","color":"black","strokeWidth":1.8},"encoding":{"x":{"field":"t","type":"quantitative","scale":{"domain":[0,1000],"range":[-2,168],"nice":false,"zero":false},"axis":null},"y":{"field":"v","type":"quantitative","scale":{"domain":[-40,6],"nice":false,"zero":false},"axis":null}}},
{"width":170,"height":46,"data":{"name":"CLY"},"transform":[{"filter":"datum.r == 2"}],"mark":{"type":"line","color":"black","strokeWidth":1.8},"encoding":{"x":{"field":"t","type":"quantitative","scale":{"domain":[0,1000],"range":[0,170],"nice":false,"zero":false},"axis":null},"y":{"field":"v","type":"quantitative","scale":{"domain":[-40,6],"nice":false,"zero":false},"axis":null}}},
{"width":1,"height":46,"data":{"name":"C45"},"transform":[{"filter":"datum.r == 2"}],"mark":{"type":"line","color":"black","strokeWidth":1.8},"encoding":{"x":{"field":"t","type":"quantitative","scale":{"domain":[0,1000],"range":[-8,162],"nice":false,"zero":false},"axis":null},"y":{"field":"v","type":"quantitative","scale":{"domain":[-40,6],"nice":false,"zero":false},"axis":null}}},
{"width":1,"height":1,"data":{"values":[{}]},"mark":{"type":"point","opacity":0}},

{"width":1,"height":1,"data":{"values":[{}]},"mark":{"type":"point","opacity":0}},
{"width":170,"height":46,"data":{"name":"CCtl"},"layer":[
  {"transform":[{"filter":"datum.r == 3 && !datum.sb"}],"mark":{"type":"line","color":"black","strokeWidth":1.8},"encoding":{"x":{"field":"t","type":"quantitative","scale":{"domain":[0,1000],"range":[-2,168],"nice":false,"zero":false},"axis":null},"y":{"field":"v","type":"quantitative","scale":{"domain":[-40,6],"nice":false,"zero":false},"axis":null}}},
  {"transform":[{"filter":"datum.sb == 1"}],"mark":{"type":"rule","color":"black","strokeWidth":1.5},"encoding":{"x":{"field":"t","type":"quantitative"},"x2":{"field":"t2"},"y":{"field":"v","type":"quantitative"},"y2":{"field":"v2"}}}
]},
{"width":170,"height":46,"data":{"name":"CLY"},"transform":[{"filter":"datum.r == 3"}],"mark":{"type":"line","color":"black","strokeWidth":1.8},"encoding":{"x":{"field":"t","type":"quantitative","scale":{"domain":[0,1000],"range":[0,170],"nice":false,"zero":false},"axis":null},"y":{"field":"v","type":"quantitative","scale":{"domain":[-40,6],"nice":false,"zero":false},"axis":null}}},
{"width":1,"height":46,"data":{"name":"C45"},"transform":[{"filter":"datum.r == 3"}],"mark":{"type":"line","color":"black","strokeWidth":1.8},"encoding":{"x":{"field":"t","type":"quantitative","scale":{"domain":[0,1000],"range":[-8,162],"nice":false,"zero":false},"axis":null},"y":{"field":"v","type":"quantitative","scale":{"domain":[-40,6],"nice":false,"zero":false},"axis":null}}},
{"width":1,"height":1,"data":{"values":[{}]},"mark":{"type":"point","opacity":0}},

{"width":1,"height":31,"data":{"values":[{}]},"mark":{"type":"point","opacity":0}},
{"width":1,"height":1,"data":{"values":[{}]},"mark":{"type":"point","opacity":0}},
{"width":1,"height":1,"data":{"values":[{}]},"mark":{"type":"point","opacity":0}},
{"width":1,"height":1,"data":{"values":[{}]},"mark":{"type":"point","opacity":0}},
{"width":1,"height":1,"data":{"values":[{}]},"mark":{"type":"point","opacity":0}},

{"width":1,"height":1,"data":{"values":[{}]},"mark":{"type":"point","opacity":0}},
{"width":176,"height":120,"layer":[
 {"data":{"name":"cum3"},"transform":[{"fold":["c","p","l"],"as":["k","y"]}],
  "mark":{"type":"point","stroke":"black","strokeWidth":1,"size":28,"opacity":1},
  "encoding":{
   "x":{"field":"x","type":"quantitative","scale":{"domain":[0,2],"nice":false},"axis":{"values":[0,0.5,1,1.5,2],"tickCount":20,"labelExpr":"replace(format(datum.value,'~g'),'.',',')","title":"Inter-event (ms)"}},
   "y":{"field":"y","type":"quantitative","scale":{"domain":[0,1],"nice":false},"axis":{"values":[0,0.2,0.4,0.6,0.8,1],"tickCount":20,"format":"~g","title":"Cumulative probability"}},
   "shape":{"field":"k","type":"nominal","scale":{"domain":["c","l","p"],"range":["circle","M-1,-1L1,1M-1,1L1,-1","circle"]},"legend":null},
   "fill":{"field":"k","type":"nominal","scale":{"domain":["c","l","p"],"range":["black","transparent","white"]},"legend":null}}},
 {"data":{"values":[{}]},"mark":{"type":"point","shape":"circle","filled":true,"color":"black","size":28,"opacity":1},"encoding":{"x":{"datum":0.625},"y":{"datum":0.4}}},
 {"data":{"values":[{}]},"mark":{"type":"point","shape":"M-1,-1L1,1M-1,1L1,-1","stroke":"black","strokeWidth":1,"size":28,"opacity":1},"encoding":{"x":{"datum":0.625},"y":{"datum":0.271}}},
 {"data":{"values":[{}]},"mark":{"type":"point","shape":"circle","fill":"white","stroke":"black","strokeWidth":1,"size":28,"opacity":1},"encoding":{"x":{"datum":0.625},"y":{"datum":0.142}}},
 {"data":{"values":[{}]},"mark":{"type":"text","align":"left","dx":7,"fontSize":12,"lineHeight":15.5},"encoding":{"x":{"datum":0.625},"y":{"datum":0.4},"text":{"value":["Control","LY 354740","45' after LY 354740"]}}}
]},
{"width":177,"height":120,"layer":[
 {"data":{"name":"cum4"},"transform":[{"fold":["c","p","l"],"as":["k","y"]}],
  "mark":{"type":"point","stroke":"black","strokeWidth":1,"size":28,"opacity":1},
  "encoding":{
   "x":{"field":"x","type":"quantitative","scale":{"domain":[0,80],"nice":false},"axis":{"values":[0,10,20,30,40,50,60,70,80],"tickCount":20,"title":"Amplitude (pA)"}},
   "y":{"field":"y","type":"quantitative","scale":{"domain":[0,1],"nice":false},"axis":{"values":[0,0.2,0.4,0.6,0.8,1],"tickCount":20,"labels":false,"title":null}},
   "shape":{"field":"k","type":"nominal","scale":{"domain":["c","l","p"],"range":["circle","M-1,-1L1,1M-1,1L1,-1","circle"]},"legend":null},
   "fill":{"field":"k","type":"nominal","scale":{"domain":["c","l","p"],"range":["black","transparent","white"]},"legend":null}}},
 {"data":{"values":[{}]},"mark":{"type":"point","shape":"circle","filled":true,"color":"black","size":28,"opacity":1},"encoding":{"x":{"datum":26.7},"y":{"datum":0.4}}},
 {"data":{"values":[{}]},"mark":{"type":"point","shape":"M-1,-1L1,1M-1,1L1,-1","stroke":"black","strokeWidth":1,"size":28,"opacity":1},"encoding":{"x":{"datum":26.7},"y":{"datum":0.271}}},
 {"data":{"values":[{}]},"mark":{"type":"point","shape":"circle","fill":"white","stroke":"black","strokeWidth":1,"size":28,"opacity":1},"encoding":{"x":{"datum":26.7},"y":{"datum":0.142}}},
 {"data":{"values":[{}]},"mark":{"type":"text","align":"left","dx":7,"fontSize":12,"lineHeight":15.5},"encoding":{"x":{"datum":26.7},"y":{"datum":0.4},"text":{"value":["Control","LY 354740","45' after LY 354740"]}}}
]},
{"width":1,"height":1,"data":{"values":[{}]},"mark":{"type":"point","opacity":0}},
{"width":150,"height":122,
 "layer":[
  {"data":{"values":[{"x":"C","x2":"P","y":4.9,"y2":4.9},{"x":"C","x2":"C","y":4.9,"y2":4.73},{"x":"P","x2":"P","y":4.9,"y2":4.73},{"x":"C","x2":"P","y":4.51,"y2":4.51},{"x":"C","x2":"C","y":4.51,"y2":4.35},{"x":"L","x2":"L","y":4.51,"y2":4.35},{"x":"P","x2":"P","y":4.51,"y2":4.35}]},
   "mark":{"type":"rule","color":"black","strokeWidth":1},
   "encoding":{
    "x":{"field":"x","type":"nominal","scale":{"type":"point","domain":["C","L","P"],"range":[12,147],"padding":0},"axis":{"title":null,"labelAngle":-90,"labelPadding":3,"labelFontSize":12,"labelLineHeight":11,"labelOffset":{"condition":{"test":"datum.value == 'P'","value":-10},"value":0},"labelExpr":"datum.value == 'C' ? 'Control' : datum.value == 'L' ? 'LY 354740' : [\"45' after\", 'LY 354740']"}},
    "x2":{"field":"x2"},
    "y":{"field":"y","type":"quantitative","scale":{"domain":[0,4.47],"range":[122,14],"nice":false},"axis":{"title":"Frequency ( Hz)","values":[0,1,2,3,4],"tickCount":20,"format":"d","titlePadding":4}},
    "y2":{"field":"y2"}}},
  {"data":{"values":[{}]},"mark":{"type":"rule","color":"black","strokeWidth":1,"xOffset":-12,"x2Offset":3},"encoding":{"x":{"datum":"C"},"x2":{"datum":"P"},"y":{"datum":0}}},
  {"data":{"values":[{}]},"mark":{"type":"text","fontSize":13,"fontWeight":"bold"},"encoding":{"x":{"datum":"L"},"y":{"datum":5.0},"text":{"value":"*"}}},
  {"data":{"values":[{}]},"mark":{"type":"text","fontSize":13,"fontWeight":"bold","dx":-34},"encoding":{"x":{"datum":"L"},"y":{"datum":4.55},"text":{"value":"**"}}},
  {"data":{"values":[{}]},"mark":{"type":"text","fontSize":13,"fontWeight":"bold","dx":34},"encoding":{"x":{"datum":"L"},"y":{"datum":4.55},"text":{"value":"*"}}},
  {"data":{"name":"D"},"mark":{"type":"line","color":"black","strokeWidth":1},"encoding":{"x":{"field":"c","type":"nominal"},"y":{"field":"y","type":"quantitative"},"detail":{"field":"e"}}},
  {"data":{"name":"D"},"mark":{"type":"point","filled":true,"color":"black","size":14,"opacity":1},"encoding":{"x":{"field":"c","type":"nominal"},"y":{"field":"y","type":"quantitative"}}},
  {"data":{"name":"Davg"},"mark":{"type":"rule","color":"black","strokeWidth":1},"encoding":{"x":{"field":"c","type":"nominal"},"y":{"field":"lo","type":"quantitative"},"y2":{"field":"hi"}}},
  {"data":{"name":"Davg"},"mark":{"type":"tick","color":"black","size":8,"thickness":1},"encoding":{"x":{"field":"c","type":"nominal"},"y":{"field":"hi","type":"quantitative"}}},
  {"data":{"name":"Davg"},"mark":{"type":"tick","color":"black","size":8,"thickness":1},"encoding":{"x":{"field":"c","type":"nominal"},"y":{"field":"lo","type":"quantitative"}}},
  {"data":{"name":"Davg"},"mark":{"type":"line","color":"black","strokeWidth":2.5,"strokeDash":[6,3]},"encoding":{"x":{"field":"c","type":"nominal"},"y":{"field":"m","type":"quantitative"}}},
  {"data":{"name":"Davg"},"mark":{"type":"point","shape":"square","filled":true,"fill":"white","stroke":"black","strokeWidth":1.2,"size":50,"opacity":1},"encoding":{"x":{"field":"c","type":"nominal"},"y":{"field":"m","type":"quantitative"}}},
  {"data":{"values":[{}]},"mark":{"type":"rule","color":"black","strokeWidth":1,"xOffset":-15,"x2Offset":18},"encoding":{"x":{"datum":"C"},"x2":{"datum":"C"},"y":{"datum":6.5}}},
  {"data":{"values":[{}]},"mark":{"type":"point","shape":"circle","filled":true,"color":"black","size":14,"opacity":1,"xOffset":3},"encoding":{"x":{"datum":"C"},"y":{"datum":6.5}}},
  {"data":{"values":[{}]},"mark":{"type":"text","align":"left","fontSize":12,"dx":20},"encoding":{"x":{"datum":"C"},"y":{"datum":6.5},"text":{"value":"individual experiment"}}},
  {"data":{"values":[{}]},"mark":{"type":"rule","color":"black","strokeWidth":2.5,"strokeDash":[6,3],"xOffset":-15,"x2Offset":18},"encoding":{"x":{"datum":"C"},"x2":{"datum":"C"},"y":{"datum":5.84}}},
  {"data":{"values":[{}]},"mark":{"type":"point","shape":"square","filled":true,"fill":"white","stroke":"black","strokeWidth":1.2,"size":50,"opacity":1,"xOffset":3},"encoding":{"x":{"datum":"C"},"y":{"datum":5.84}}},
  {"data":{"values":[{}]},"mark":{"type":"text","align":"left","fontSize":12,"dx":20},"encoding":{"x":{"datum":"C"},"y":{"datum":5.84},"text":{"value":"average (n=8)"}}},
  {"data":{"values":[{}]},"mark":{"type":"point","shape":"circle","size":380,"filled":false,"stroke":"black","strokeWidth":1,"opacity":1,"xOffset":-39},"encoding":{"x":{"datum":"C"},"y":{"datum":6.17}}},
  {"data":{"values":[{}]},"mark":{"type":"text","fontSize":17,"dx":-39},"encoding":{"x":{"datum":"C"},"y":{"datum":6.17},"text":{"value":"D"}}}
 ]}
],
"config":{
 "view":{"stroke":null},
 "font":"Liberation Sans",
 "concat":{"spacing":0},
 "axis":{"domainColor":"black","tickColor":"black","labelColor":"black","titleColor":"black","grid":false,"labelFontSize":13,"titleFontSize":12,"titleFontWeight":"normal","tickSize":4,"labelPadding":2,"titlePadding":6,"labelFont":"Liberation Sans","titleFont":"Liberation Sans","labelFlush":false,"labelOverlap":false,"domainWidth":1,"tickWidth":1},
 "text":{"font":"Liberation Sans","color":"black"}
}
}
